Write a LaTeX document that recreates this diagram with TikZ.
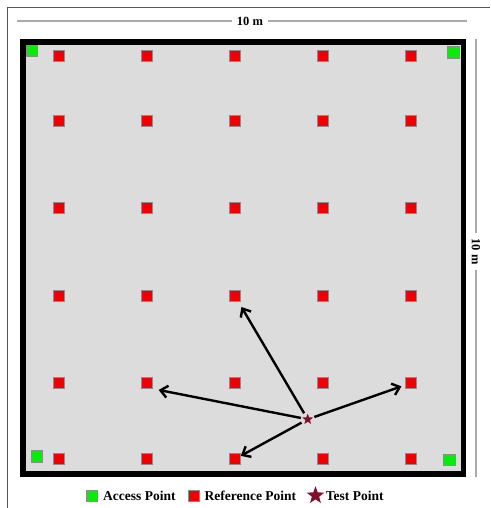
\documentclass[tikz,border=0pt]{standalone}
\usepackage{fontspec}
\setmainfont{Liberation Serif}
\usetikzlibrary{arrows.meta,positioning,shapes.geometric}
\definecolor{floorgray}{RGB}{220,220,220}
\definecolor{refred}{RGB}{238,0,0}
\definecolor{apgreen}{RGB}{10,235,10}
\definecolor{testmaroon}{RGB}{130,14,42}
\definecolor{dimgray}{RGB}{170,170,170}
\definecolor{framegray}{RGB}{85,85,85}

\begin{document}
\begin{tikzpicture}[x=1pt,y=-1pt,>={Straight Barb[length=7pt,width=12pt]},
    every node/.style={font=\bfseries\fontsize{13.5}{16}\selectfont},
    refpt/.style={draw=black!45,line width=0.6pt,fill=refred,minimum size=11pt,inner sep=0pt},
    appt/.style={draw=black!45,line width=0.6pt,fill=apgreen,minimum size=11.5pt,inner sep=0pt},
    testpt/.style={star,star points=5,star point ratio=2.4,fill=testmaroon,inner sep=0pt,minimum size=11.5pt},
    dimlab/.style={font=\bfseries\fontsize{12.5}{14}\selectfont,inner sep=5pt},
    ray/.style={->,line width=2.4pt,shorten <=7pt}]
  \useasboundingbox (0,0) rectangle (490,508);
  % outer frame
  \draw[framegray,line width=0.8pt] (490,7.5) -- (7.5,7.5) -- (7.5,508);
  % dimensions
  \node[dimlab] (wlab) at (250,21) {10 m};
  \coordinate (wl) at (17,21);
  \coordinate (wr) at (467,21);
  \draw[dimgray,line width=1.8pt] (wl) -- (wlab.west) (wlab.east) -- (wr);
  \node[dimlab,rotate=-90] (hlab) at (476,251.5) {10 m};
  \coordinate (ht) at (476,39);
  \coordinate (hb) at (476,477);
  \draw[dimgray,line width=1.8pt] (ht) -- (hlab.west) (hlab.east) -- (hb);
  % room
  \draw[line width=5.5pt,fill=floorgray] (23,42) rectangle (463.5,474);
  % reference points
  \foreach \c [count=\i] in {59,147,235,323,411}
    \foreach \r [count=\j] in {56,121,208,296,383,459}
      \node[refpt] (r\i\j) at (\c,\r) {};
  % access points
  \node[appt,minimum size=11pt] (ap1) at (31.3,51.3) {};
  \node[appt] (ap2) at (453.3,52.5) {};
  \node[appt] (ap3) at (36.7,456.5) {};
  \node[appt] (ap4) at (449.5,460) {};
  % test point
  \node[testpt] (tp) at (307.7,419.3) {};
  \draw[ray,shorten >=6pt] (tp.center) -- (r34);
  \draw[ray,shorten >=6pt] (tp.center) -- (r25.south east);
  \draw[ray,shorten >=4pt] (tp.center) -- (r55);
  \draw[ray,shorten >=0pt] (tp.center) -- (r36);
  % legend
  \node[appt,minimum size=11pt] (lgap) at (91.7,496) {};
  \node[right=5.5pt of lgap,inner sep=0pt] (lgaptxt) {Access Point};
  \node[refpt,right=12pt of lgaptxt] (lgref) {};
  \node[right=5pt of lgref,inner sep=0pt] (lgreftxt) {Reference Point};
  \node[testpt,minimum size=18.5pt] (lgtp) at (315.5,495.5) {};
  \node[anchor=west,inner sep=0pt] (lgtptxt) at (325.7,496) {Test Point};
\end{tikzpicture}
\end{document}
